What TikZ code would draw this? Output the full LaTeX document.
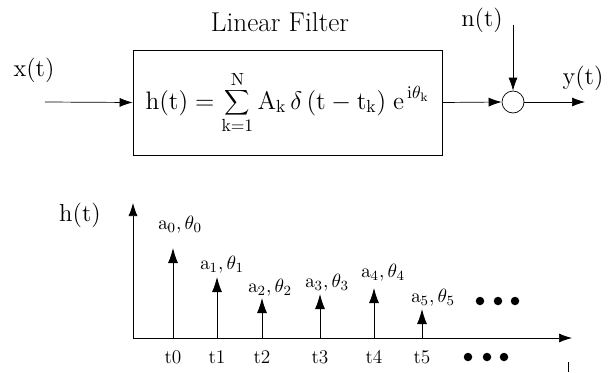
\documentclass[tikz,border=0pt]{standalone}
\usepackage{tikz}
\usetikzlibrary{arrows.meta}

\tikzset{
  sig/.style={-{Latex[length=2.6mm,width=1.8mm]}, line width=0.4pt},
  spike/.style={-{Latex[length=3mm,width=2mm]}, line width=0.5pt},
  lbl/.style={font=\fontsize{14}{17}\selectfont},
  small/.style={font=\fontsize{11}{13}\selectfont},
  dot/.style={circle, fill, inner sep=0pt, minimum size=1.7mm}
}

\begin{document}
\begin{tikzpicture}[>=stealth]

\useasboundingbox (0,0) rectangle (12.3,7.44);

% Coordinates
\coordinate (xin) at (0.9,5.4);
\coordinate (nin) at (10.26,6.94);
\coordinate (yout) at (11.7,5.4);

% Filter block
\node[font=\fontsize{15.5}{18}\selectfont] (title) at (5.6,7.0) {Linear Filter};
\node[draw, line width=0.4pt, minimum width=6.18cm, minimum height=2.1cm, lbl] (filter) at (5.75,5.39)
  {$\displaystyle \mathrm{h(t)} = \sum_{\mathrm{k=1}}^{\mathrm{N}} \mathrm{A_k}\,\delta\,(\mathrm{t} - \mathrm{t_k})\; \mathrm{e}^{\,\mathrm{i}\theta_{\mathrm{k}}}$};

% Adder
\node[draw, circle, line width=0.4pt, minimum size=0.44cm, inner sep=0pt] (sum) at (10.26,5.4) {};

% Signal labels
\node[lbl] (xlbl) at (0.68,6.04) {x(t)};
\node[lbl] (nlbl) at (9.64,7.04) {n(t)};
\node[lbl] (ylbl) at (11.66,5.88) {y(t)};

% Signal path
\draw[sig] (xin) -- (filter.west);
\draw[sig] (filter.east) -- (sum.west);
\draw[sig] (nin) -- (sum.north);
\draw[sig] (sum.east) -- (yout);

% Impulse response axes
\coordinate (O) at (2.66,0.68);
\coordinate (ytop) at (2.66,3.38);
\coordinate (xend) at (11.44,0.68);
\draw[sig] (O) -- (ytop);
\draw[sig] (O) -- (xend);
\node[lbl] (hlbl) at (1.6,3.14) {h(t)};

% Spikes
\coordinate (b0) at (3.46,0.68); \coordinate (p0) at (3.46,2.48);
\coordinate (b1) at (4.34,0.68); \coordinate (p1) at (4.34,1.90);
\coordinate (b2) at (5.24,0.68); \coordinate (p2) at (5.24,1.48);
\coordinate (b3) at (6.40,0.68); \coordinate (p3) at (6.40,1.56);
\coordinate (b4) at (7.48,0.68); \coordinate (p4) at (7.48,1.68);
\coordinate (b5) at (8.44,0.68); \coordinate (p5) at (8.44,1.26);
\draw[spike] (b0) -- (p0);
\draw[spike] (b1) -- (p1);
\draw[spike] (b2) -- (p2);
\draw[spike] (b3) -- (p3);
\draw[spike] (b4) -- (p4);
\draw[spike] (b5) -- (p5);

% Spike labels
\node[small] (a0) at (3.60,2.94) {$\mathrm{a_0,\theta_0}$};
\node[small] (a1) at (4.44,2.14) {$\mathrm{a_1,\theta_1}$};
\node[small] (a2) at (5.40,1.68) {$\mathrm{a_2,\theta_2}$};
\node[small] (a3) at (6.54,1.78) {$\mathrm{a_3,\theta_3}$};
\node[small] (a4) at (7.66,1.98) {$\mathrm{a_4,\theta_4}$};
\node[small] (a5) at (8.66,1.48) {$\mathrm{a_5,\theta_5}$};

% Time labels
\node[small] (t0) at (3.46,0.3) {t0};
\node[small] (t1) at (4.34,0.3) {t1};
\node[small] (t2) at (5.24,0.3) {t2};
\node[small] (t3) at (6.40,0.3) {t3};
\node[small] (t4) at (7.48,0.3) {t4};
\node[small] (t5) at (8.44,0.3) {t5};

% Dots
\node[dot] (u1) at (9.60,1.42) {};
\node[dot] (u2) at (9.96,1.42) {};
\node[dot] (u3) at (10.30,1.42) {};
\node[dot] (l1) at (9.36,0.30) {};
\node[dot] (l2) at (9.74,0.30) {};
\node[dot] (l3) at (10.08,0.30) {};

% Tick
\draw[line width=0.4pt] (11.36,0.2) -- (11.36,0.0);

\end{tikzpicture}
\end{document}
